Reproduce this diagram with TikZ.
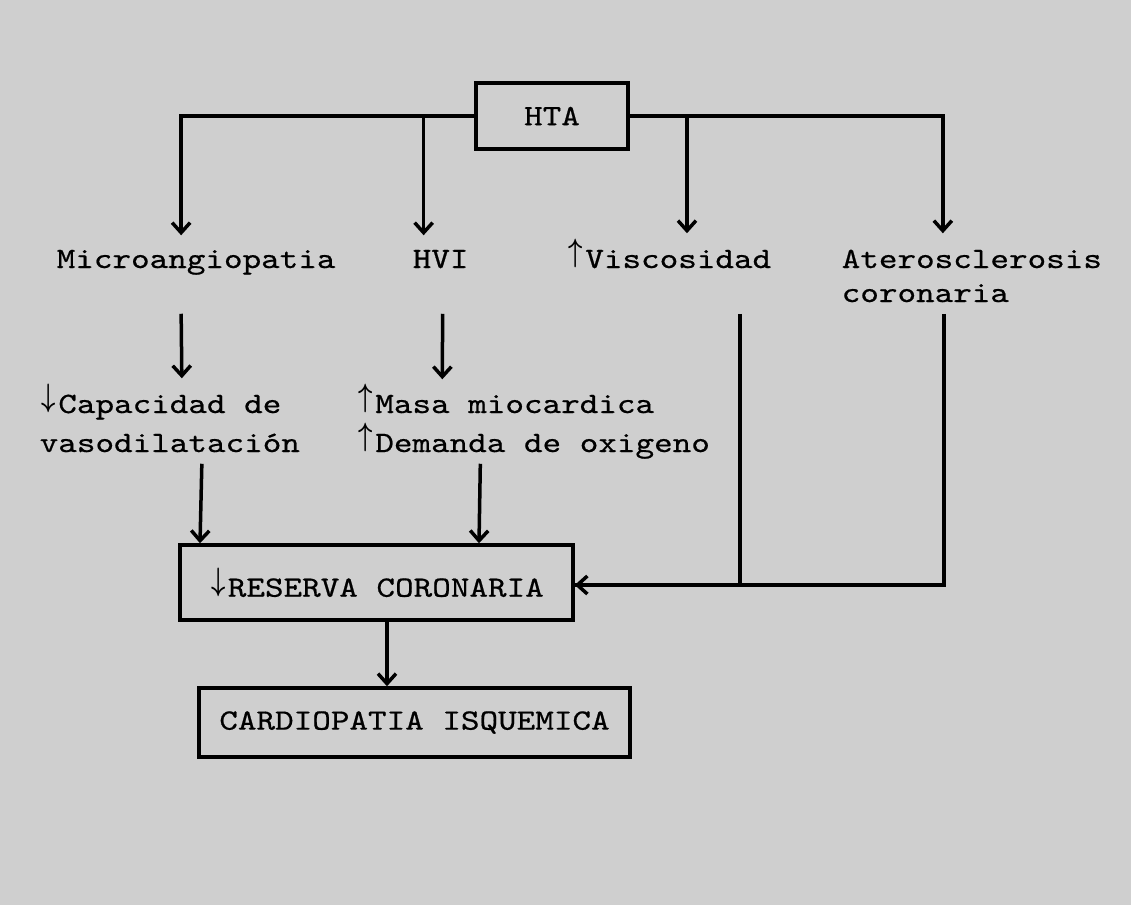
\documentclass[tikz,border=0pt]{standalone}
\usepackage{fontspec}
\usepackage{graphicx}
\newfontfamily\mono{lmmono10-regular.otf}[FakeStretch=1.2, FakeBold=0.6]
\usepackage{xcolor}
\definecolor{scan}{HTML}{CFCFCF}
\usetikzlibrary{arrows.meta}
\newcommand\upar{\makebox[18.6pt]{\raisebox{6.3pt}{\scalebox{1.0}[1.3]{\boldmath$\uparrow$}}}}
\newcommand\dnar{\makebox[18.6pt]{\raisebox{6.3pt}{\scalebox{1.0}[1.3]{\boldmath$\downarrow$}}}}
\tikzset{
  arr/.style={-{Straight Barb[length=10pt,width=18pt]}},
  box/.style={draw, inner sep=0pt},
  lbl/.style={inner sep=0pt, anchor=base west, text height=22pt, text depth=8pt},
}

\begin{document}
\begin{tikzpicture}[x=1pt, y=-1pt, line width=3.5pt, font={\mono\fontsize{29.5pt}{39pt}\selectfont}]
        \useasboundingbox (0, 0) rectangle (1131, 905);
        \fill[scan] (0, 0) rectangle (1131, 905);

        \node[box, minimum width=152pt, minimum height=66pt] (hta) at (552, 116) {HTA};
        \node[lbl] (micro) at (55, 268) {Microangiopatia};
        \node[lbl] (hvi) at (411, 268) {HVI};
        \node[lbl] (visc) at (565, 268) {\upar Viscosidad};
        \node[lbl, align=left, text height=56pt] (ather) at (840, 302) {Aterosclerosis\\[-5pt]coronaria};
        \node[lbl, align=left, text height=61pt] (capac) at (38, 452) {\dnar Capacidad de\\vasodilatación};
        \node[lbl, align=left, text height=61pt] (masa) at (355, 452) {\upar Masa miocardica\\\upar Demanda de oxigeno};
        \node[box, minimum width=393pt, minimum height=75pt] (reserva) at (376.5, 582.5) {\dnar RESERVA CORONARIA};
        \node[box, minimum width=431pt, minimum height=69pt] (cardio) at (414.5, 722.5) {CARDIOPATIA ISQUEMICA};

        \draw[arr] (hta.west) -| ([xshift=-15pt, yshift=9pt]micro.north);
        \draw[arr] ([xshift=-17pt]hvi.north |- hta.west) -- ([xshift=-17pt, yshift=9pt]hvi.north);
        \draw[arr] (hta.east) -| ([xshift=-29pt, yshift=11pt]ather.north);
        \draw[arr] ([xshift=18pt]visc.north |- hta.east) -- ([xshift=18pt, yshift=11pt]visc.north);

        \draw[arr] ([xshift=-15pt, yshift=-36pt]micro.south) -- ([xshift=12pt, yshift=11pt]capac.north);
        \draw[arr] ([xshift=2pt, yshift=-36pt]hvi.south) -- ([xshift=-91pt, yshift=10pt]masa.north);

        \draw[arr] ([xshift=32pt, yshift=-2pt]capac.south) -- ([xshift=-176.5pt]reserva.north);
        \draw[arr] ([xshift=-53pt, yshift=-2pt]masa.south) -- ([xshift=102.5pt]reserva.north);
        \draw ([xshift=71pt, yshift=-36pt]visc.south) |- ([yshift=-2.5pt]reserva.east);
        \draw[arr] ([xshift=-28pt, yshift=-2pt]ather.south) |- ([yshift=-2.5pt]reserva.east);

        \draw[arr] ([xshift=10.5pt]reserva.south) -- ([xshift=-27.5pt]cardio.north);
    \end{tikzpicture}
\end{document}
